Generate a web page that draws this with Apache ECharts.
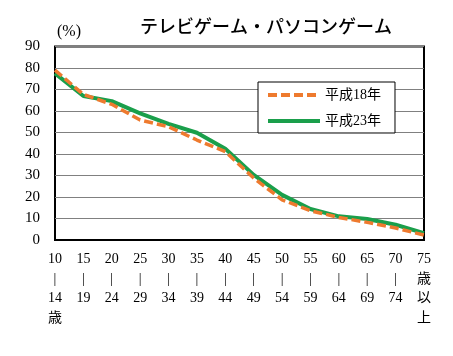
<!DOCTYPE html>
<html><head><meta charset="utf-8">
<script src="https://cdn.jsdelivr.net/npm/echarts@6/dist/echarts.min.js"></script>
<style>html,body{margin:0;padding:0;background:#fff}#c{width:453px;height:356px}</style>
</head><body><div id="c"></div>
<script>
const titleText = 'テレビゲーム・パソコンゲーム';
const unitLabel = '(%)';
const categories = ['10\n|\n14\n歳','15\n|\n19','20\n|\n24','25\n|\n29','30\n|\n34','35\n|\n39','40\n|\n44','45\n|\n49','50\n|\n54','55\n|\n59','60\n|\n64','65\n|\n69','70\n|\n74','75\n歳\n以\n上'];
const seriesNames = ['平成18年','平成23年'];
const h18 = [79.0, 67.7, 63.1, 55.8, 52.7, 46.5, 41.1, 28.8, 18.7, 13.6, 10.5, 8.2, 5.6, 2.3];
const h23 = [77.5, 67.0, 64.6, 58.9, 54.0, 49.9, 42.4, 30.3, 21.0, 14.4, 11.0, 9.8, 7.1, 3.2];
const yTicks = {min: 0, max: 90, interval: 10};

const serif = "'Liberation Serif', 'Noto Sans CJK JP', serif";
const chart = echarts.init(document.getElementById('c'), null, {renderer: 'canvas'});
chart.setOption({
  animation: false,
  backgroundColor: '#fff',
  title: {
    text: titleText, left: 135, top: 12,
    textStyle: {fontFamily: "'Noto Sans CJK JP'", fontSize: 18, fontWeight: 500, color: '#000'}
  },
  graphic: [{
    type: 'text', left: 57, top: 24,
    style: {text: unitLabel, font: "16px 'Liberation Serif', serif", fill: '#000'}
  }],
  legend: {
    data: seriesNames,
    orient: 'vertical', left: 258, top: 82,
    padding: [6, 14, 5, 8],
    itemWidth: 52, itemHeight: 14, itemGap: 12,
    itemStyle: {opacity: 0},
    lineStyle: {width: 4},
    borderColor: '#000', borderWidth: 1, backgroundColor: '#fff',
    textStyle: {fontFamily: serif, fontSize: 14, color: '#000'}
  },
  grid: {left: 55, right: 29, top: 46.5, bottom: 116, show: true, borderColor: '#000', borderWidth: 2, containLabel: false},
  xAxis: {
    type: 'category', data: categories, boundaryGap: false,
    axisLine: {show: true, lineStyle: {color: '#000', width: 2}},
    axisTick: {show: false},
    axisLabel: {interval: 0, margin: 10, fontFamily: serif, fontSize: 14, lineHeight: 19.5, color: '#000'},
    splitLine: {show: false}
  },
  yAxis: {
    type: 'value', min: yTicks.min, max: yTicks.max, interval: yTicks.interval,
    axisLine: {show: false}, axisTick: {show: false},
    axisLabel: {margin: 15, fontFamily: serif, fontSize: 15, color: '#000'},
    splitLine: {show: true, lineStyle: {color: '#808080', width: 1}}
  },
  series: [
    {name: seriesNames[1], type: 'line', data: h23, symbol: 'none', showSymbol: false,
     lineStyle: {color: '#1A9F4B', width: 4}, itemStyle: {color: '#1A9F4B'}},
    {name: seriesNames[0], type: 'line', data: h18, symbol: 'none', showSymbol: false,
     lineStyle: {color: '#EE7A2E', width: 3.5, type: [9, 4]}, itemStyle: {color: '#EE7A2E'}}
  ]
});
</script></body></html>
